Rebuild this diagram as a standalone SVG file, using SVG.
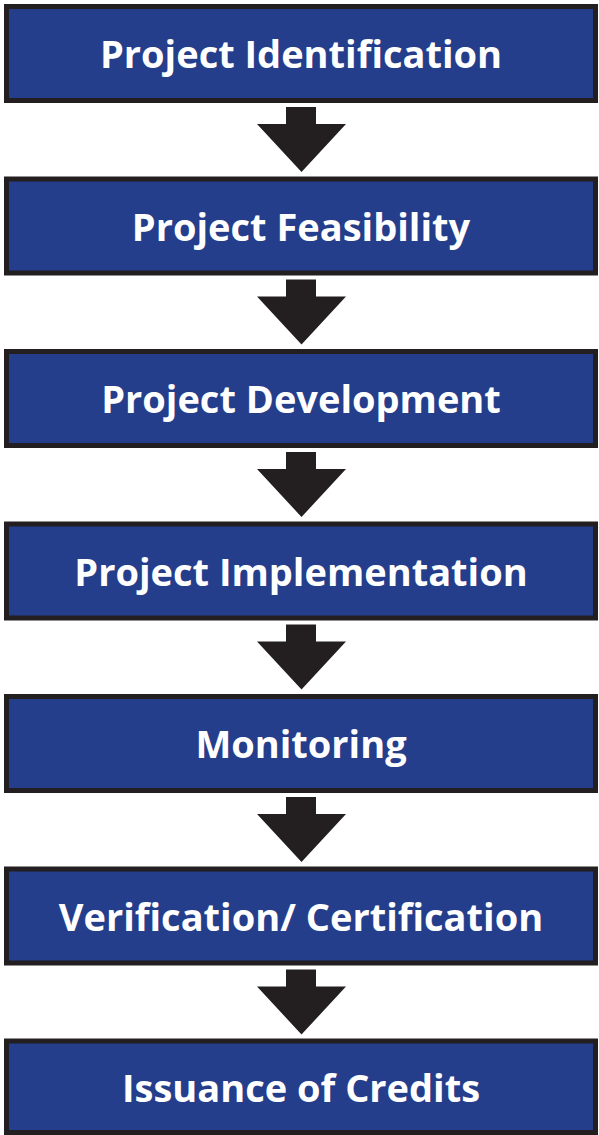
<svg xmlns="http://www.w3.org/2000/svg" width="599" height="1135" viewBox="0 0 599 1135">
<style>
.box{fill:#243e8c;stroke:#231f20;stroke-width:5}
.lbl{fill:#ffffff;font-family:"Open Sans","Noto Sans",sans-serif;font-weight:bold;font-size:38px;text-anchor:middle}
.arr{fill:#231f20}
</style>
<defs>
<path id="dn" d="M286,0 H316 V17 H346 L301.5,65 L257,17 H286 Z"/>
</defs>
<rect width="599" height="1135" fill="#ffffff"/>
<g id="connectors">
<use href="#dn" class="arr" transform="translate(0,107)"/>
<use href="#dn" class="arr" transform="translate(0,279.5)"/>
<use href="#dn" class="arr" transform="translate(0,452)"/>
<use href="#dn" class="arr" transform="translate(0,624.5)"/>
<use href="#dn" class="arr" transform="translate(0,797)"/>
<use href="#dn" class="arr" transform="translate(0,969.5)"/>
</g>
<g id="n1"><rect class="box" x="6.5" y="6.5" width="589" height="94"/><text class="lbl" x="301" y="68">Project Identification</text></g>
<g id="n2"><rect class="box" x="6.5" y="179" width="589" height="94"/><text class="lbl" x="301" y="240.5">Project Feasibility</text></g>
<g id="n3"><rect class="box" x="6.5" y="351.5" width="589" height="94"/><text class="lbl" x="301" y="413">Project Development</text></g>
<g id="n4"><rect class="box" x="6.5" y="524" width="589" height="94"/><text class="lbl" x="301" y="585.5">Project Implementation</text></g>
<g id="n5"><rect class="box" x="6.5" y="696.5" width="589" height="94"/><text class="lbl" x="301" y="758">Monitoring</text></g>
<g id="n6"><rect class="box" x="6.5" y="869" width="589" height="94"/><text class="lbl" x="301" y="930.5">Verification/ Certification</text></g>
<g id="n7"><rect class="box" x="6.5" y="1041" width="589" height="91.5"/><text class="lbl" x="301" y="1102">Issuance of Credits</text></g>
</svg>
